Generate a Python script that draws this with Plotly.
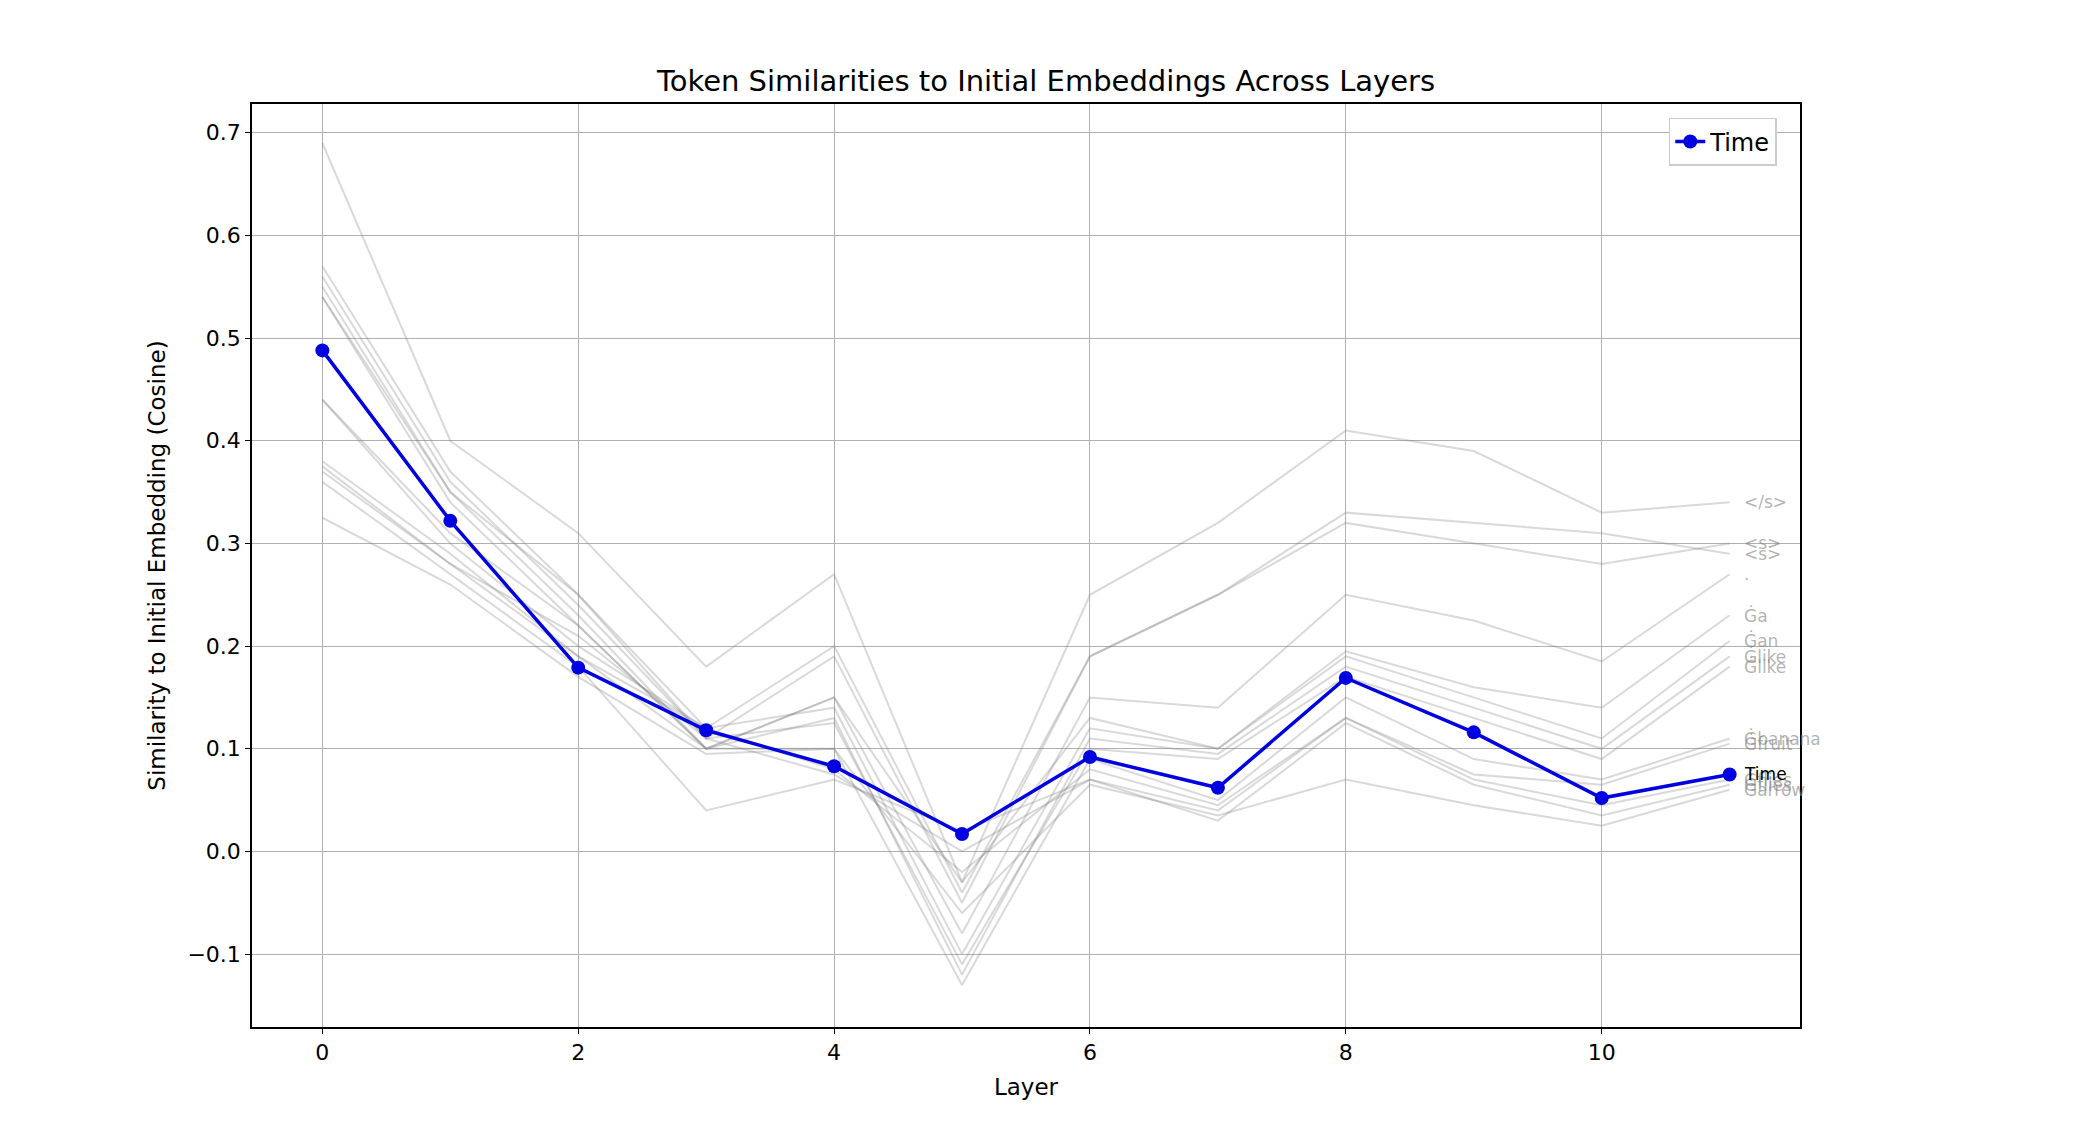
import plotly.graph_objects as go

layers = list(range(12))
time_vals = [0.488, 0.322, 0.179, 0.118, 0.083, 0.017, 0.092, 0.062, 0.169, 0.116, 0.052, 0.075]
tokens = ["&lt;/s&gt;", "&lt;s&gt;", "&lt;s&gt;", ".", "Ġa", "Ġan", "Ġlike", "Ġlike", "Ġbanana", "Ġfruit", "Ġflies", "Ġflies", "Ġarrow"]
gray_vals = [
    [0.69, 0.40, 0.31, 0.18, 0.27, -0.03, 0.25, 0.32, 0.41, 0.39, 0.33, 0.34],
    [0.57, 0.37, 0.25, 0.12, 0.20, -0.04, 0.19, 0.25, 0.33, 0.32, 0.31, 0.29],
    [0.56, 0.36, 0.24, 0.11, 0.19, -0.05, 0.19, 0.25, 0.32, 0.30, 0.28, 0.30],
    [0.55, 0.35, 0.23, 0.10, 0.15, -0.08, 0.15, 0.14, 0.25, 0.225, 0.185, 0.27],
    [0.54, 0.34, 0.22, 0.10, 0.15, -0.03, 0.13, 0.10, 0.195, 0.16, 0.14, 0.23],
    [0.44, 0.30, 0.20, 0.12, 0.14, -0.10, 0.12, 0.10, 0.19, 0.15, 0.11, 0.205],
    [0.38, 0.29, 0.19, 0.10, 0.13, -0.12, 0.11, 0.095, 0.18, 0.14, 0.10, 0.19],
    [0.375, 0.28, 0.21, 0.11, 0.125, -0.11, 0.10, 0.09, 0.17, 0.13, 0.09, 0.18],
    [0.44, 0.31, 0.22, 0.10, 0.10, -0.13, 0.09, 0.05, 0.15, 0.09, 0.07, 0.11],
    [0.37, 0.28, 0.19, 0.12, 0.08, -0.02, 0.08, 0.045, 0.13, 0.075, 0.065, 0.105],
    [0.54, 0.35, 0.25, 0.11, 0.075, 0.00, 0.07, 0.04, 0.13, 0.07, 0.045, 0.07],
    [0.36, 0.27, 0.18, 0.04, 0.07, 0.02, 0.07, 0.03, 0.125, 0.065, 0.035, 0.065],
    [0.325, 0.26, 0.17, 0.095, 0.10, -0.06, 0.065, 0.035, 0.07, 0.045, 0.025, 0.06],
]

fig = go.Figure()
for name, vals in zip(tokens, gray_vals):
    fig.add_trace(go.Scatter(x=layers, y=vals, mode="lines", showlegend=False,
                             line=dict(color="rgba(128,128,128,0.3)", width=2), hoverinfo="skip"))
    fig.add_annotation(x=layers[-1] + 0.1, y=vals[-1], text=name, showarrow=False, xanchor="left",
                       font=dict(color="rgba(128,128,128,0.6)", size=17))
fig.add_trace(go.Scatter(x=layers, y=time_vals, mode="lines+markers", name="Time",
                         line=dict(color="#0000e0", width=3.5), marker=dict(size=14, color="#0000e0")))
fig.add_annotation(x=layers[-1] + 0.1, y=time_vals[-1], text="Time", showarrow=False, xanchor="left",
                   font=dict(color="black", size=17))

ax = dict(showline=True, linecolor="black", linewidth=1.5, mirror=True, gridcolor="#b0b0b0",
          zeroline=False, ticks="outside", tickcolor="black", tickfont=dict(size=22, color="black"))
fig.update_layout(
    width=2076, height=1148, plot_bgcolor="white", paper_bgcolor="white",
    font=dict(family="DejaVu Sans", color="black"),
    title=dict(text="Token Similarities to Initial Embeddings Across Layers", x=0.5, xanchor="center",
               y=0.945, font=dict(size=29)),
    margin=dict(l=244, r=284, t=96, b=129),
    xaxis=dict(ax, range=[-0.55, 11.55], tickvals=[0, 2, 4, 6, 8, 10],
               title=dict(text="Layer", font=dict(size=23))),
    yaxis=dict(ax, range=[-0.171, 0.728], tickvals=[-0.1, 0, 0.1, 0.2, 0.3, 0.4, 0.5, 0.6, 0.7],
               ticktext=["\u22120.1", "0.0", "0.1", "0.2", "0.3", "0.4", "0.5", "0.6", "0.7"],
               title=dict(text="Similarity to Initial Embedding (Cosine)", font=dict(size=23))),
    legend=dict(x=0.985, y=0.985, xanchor="right", yanchor="top", bordercolor="#cccccc", borderwidth=1.5,
                font=dict(size=24), bgcolor="white"),
)
fig.write_html("out.html")
